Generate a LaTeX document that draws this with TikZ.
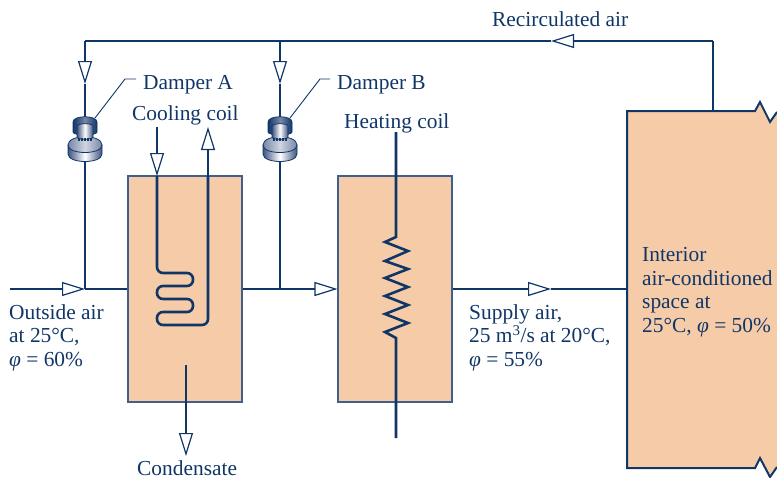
\documentclass[tikz,border=0pt]{standalone}
\usepackage{fontspec}
\setmainfont{Liberation Serif}
\usetikzlibrary{arrows.meta}
\definecolor{ductblue}{RGB}{16, 54, 104}
\definecolor{edgeblue}{RGB}{62, 96, 142}
\definecolor{peach}{RGB}{246, 204, 168}
\definecolor{steel}{RGB}{62, 84, 128}

\begin{document}
\begin{tikzpicture}[
                x=1pt, y=-1pt,
                duct/.style={draw=ductblue, line width=1.9pt},
                flow/.style={duct, -{Triangle[length=23pt, width=14pt, fill=white, line width=1.2pt]}},
                coil/.style={draw=ductblue, line width=2.6pt},
                leader/.style={draw=ductblue, line width=0.9pt},
                caja/.style={
                    rectangle,
                    fill=peach,
                    draw=edgeblue,
                    line width=1.1pt,
                    minimum width=114pt,
                    minimum height=226pt,
                    inner sep=0pt
                },
                etiqueta/.style={
                    text=ductblue,
                    font=\fontsize{21.4}{23.5}\selectfont,
                    align=left,
                    inner sep=0pt
                },
                metal/.style={
                    draw=ductblue,
                    line width=0.8pt,
                    left color=steel,
                    right color=steel,
                    middle color=white
                },
                dampershape/.pic={
                    \path[metal] (-17,5) -- (-17,14) .. controls (-17,24) and (17,24) .. (17,14) -- (17,5) -- cycle;
                    \path[metal, left color=steel!70, right color=steel!70, middle color=steel!25] (-17,5) .. controls (-17,-6) and (17,-6) .. (17,5) .. controls (17,15) and (-17,15) .. (-17,5) -- cycle;
                    \path[metal, left color=ductblue, right color=ductblue, middle color=steel!70] (-12,-18) -- (-12,-8) .. controls (-12,-4) and (12,-4) .. (12,-8) -- (12,-18) .. controls (12,-25) and (-12,-25) .. (-12,-18) -- cycle;
                    \path[metal] (-8,-14) -- (-8,-3) .. controls (-8,0) and (8,0) .. (8,-3) -- (8,-14) .. controls (8,-17) and (-8,-17) .. (-8,-14) -- cycle;
                    \draw[ductblue, line width=3pt, dash pattern=on 1.5pt off 1.5pt] (-7,-1) -- (7,-1);
                    \coordinate (-lead) at (10,-22);
                }
            ]
                \useasboundingbox (0,0) rectangle (777,477);

                % espacio interior
                \fill[peach] (627,111) -- (755,111) -- (760,102) -- (770,122) -- (777,112) -- (777,467) -- (770,477) -- (760,458) -- (755,468) -- (627,468) -- cycle;
                \draw[ductblue, line width=2pt] (777,112) -- (770,122) -- (760,102) -- (755,111) -- (627,111) -- (627,468) -- (755,468) -- (760,458) -- (770,477) -- (777,467);

                % cajas
                \node[caja] (cooling) at (185,289) {};
                \node[caja] (heating) at (395,289) {};

                \coordinate (outside) at (10,289);
                \coordinate (mixa) at (85,289);
                \coordinate (mixb) at (280,289);
                \coordinate (supplytip) at (551,289);
                \coordinate (room) at (627,289);
                \coordinate (roomtop) at (713,111);
                \coordinate (corner) at (713,41);
                \coordinate (recirctip) at (551,41);
                \coordinate (topa) at (85,41);
                \coordinate (topb) at (280,41);
                \coordinate (tipa) at (85,84);
                \coordinate (tipb) at (280,84);
                \coordinate (drainstart) at (186,365);
                \coordinate (draintip) at (186,456);

                % conductos
                \draw[flow] (outside) -- (mixa);
                \draw[duct] (mixa) -- (cooling.west);
                \draw[flow] (cooling.east) -- (heating.west);
                \draw[flow] (heating.east) -- (supplytip);
                \draw[duct] (supplytip) -- (room);
                \draw[duct] (roomtop) -- (corner);
                \draw[flow] (corner) -- (recirctip);
                \draw[duct] (recirctip) -- (topa);
                \draw[flow] (topa) -- (tipa);
                \draw[flow] (topb) -- (tipb);
                \draw[duct] (tipa) -- (mixa);
                \draw[duct] (tipb) -- (mixb);
                \draw[flow] (drainstart) -- (draintip);

                % compuertas
                \pic (dampera) at (85,140) {dampershape};
                \pic (damperb) at (280,140) {dampershape};

                % serpentines
                \coordinate (coilin) at (157,127);
                \coordinate (coilintip) at (157,176);
                \coordinate (coilout) at (208,176);
                \coordinate (coilouttip) at (208,127);
                \draw[flow, line width=2.4pt] (coilin) -- (coilintip);
                \draw[flow, line width=2.4pt] (coilout) -- (coilouttip);
                \draw[coil, rounded corners=6pt] (coilintip) -- (157,273) -- (193,273) -- (193,286) -- (157,286) -- (157,299) -- (193,299) -- (193,312) -- (157,312) -- (157,325) -- (208,325) -- (coilout);
                \draw[coil] (396,132) -- (396,237) -- (385,242) -- (408,251) -- (385,261) -- (408,269) -- (385,278) -- (408,287) -- (385,296) -- (408,305) -- (385,314) -- (408,323) -- (385,332) -- (396,338) -- (396,438);

                % textos
                \node[etiqueta, anchor=base west] (recirc) at (492,26) {Recirculated air};
                \node[etiqueta, anchor=base west, inner xsep=7pt] (labela) at (136,89) {Damper A};
                \node[etiqueta, anchor=base west, inner xsep=7pt] (labelb) at (330,89) {Damper B};
                \node[etiqueta, anchor=base west] (coolinglabel) at (132,120.5) {Cooling coil};
                \node[etiqueta, anchor=base west] (heatinglabel) at (344,128) {Heating coil};
                \node[etiqueta, anchor=north west] (outsidelabel) at (9,304) {Outside air\\at 25°C,\\\textit{φ} = 60\%};
                \node[etiqueta, anchor=north west] (supplylabel) at (469,304) {Supply air,\\25 m\textsuperscript{3}/s at 20°C,\\\textit{φ} = 55\%};
                \node[etiqueta, anchor=north west] (roomlabel) at (642,247.5) {Interior\\air-conditioned\\space at\\25°C, \textit{φ} = 50\%};
                \node[etiqueta, anchor=base west] (condensate) at (137,475) {Condensate};

                \coordinate (benda) at (125,79);
                \coordinate (bendb) at (320,79);
                \draw[leader] (dampera-lead) -- (benda) -- (benda -| labela.west);
                \draw[leader] (damperb-lead) -- (bendb) -- (bendb -| labelb.west);
            \end{tikzpicture}
\end{document}
